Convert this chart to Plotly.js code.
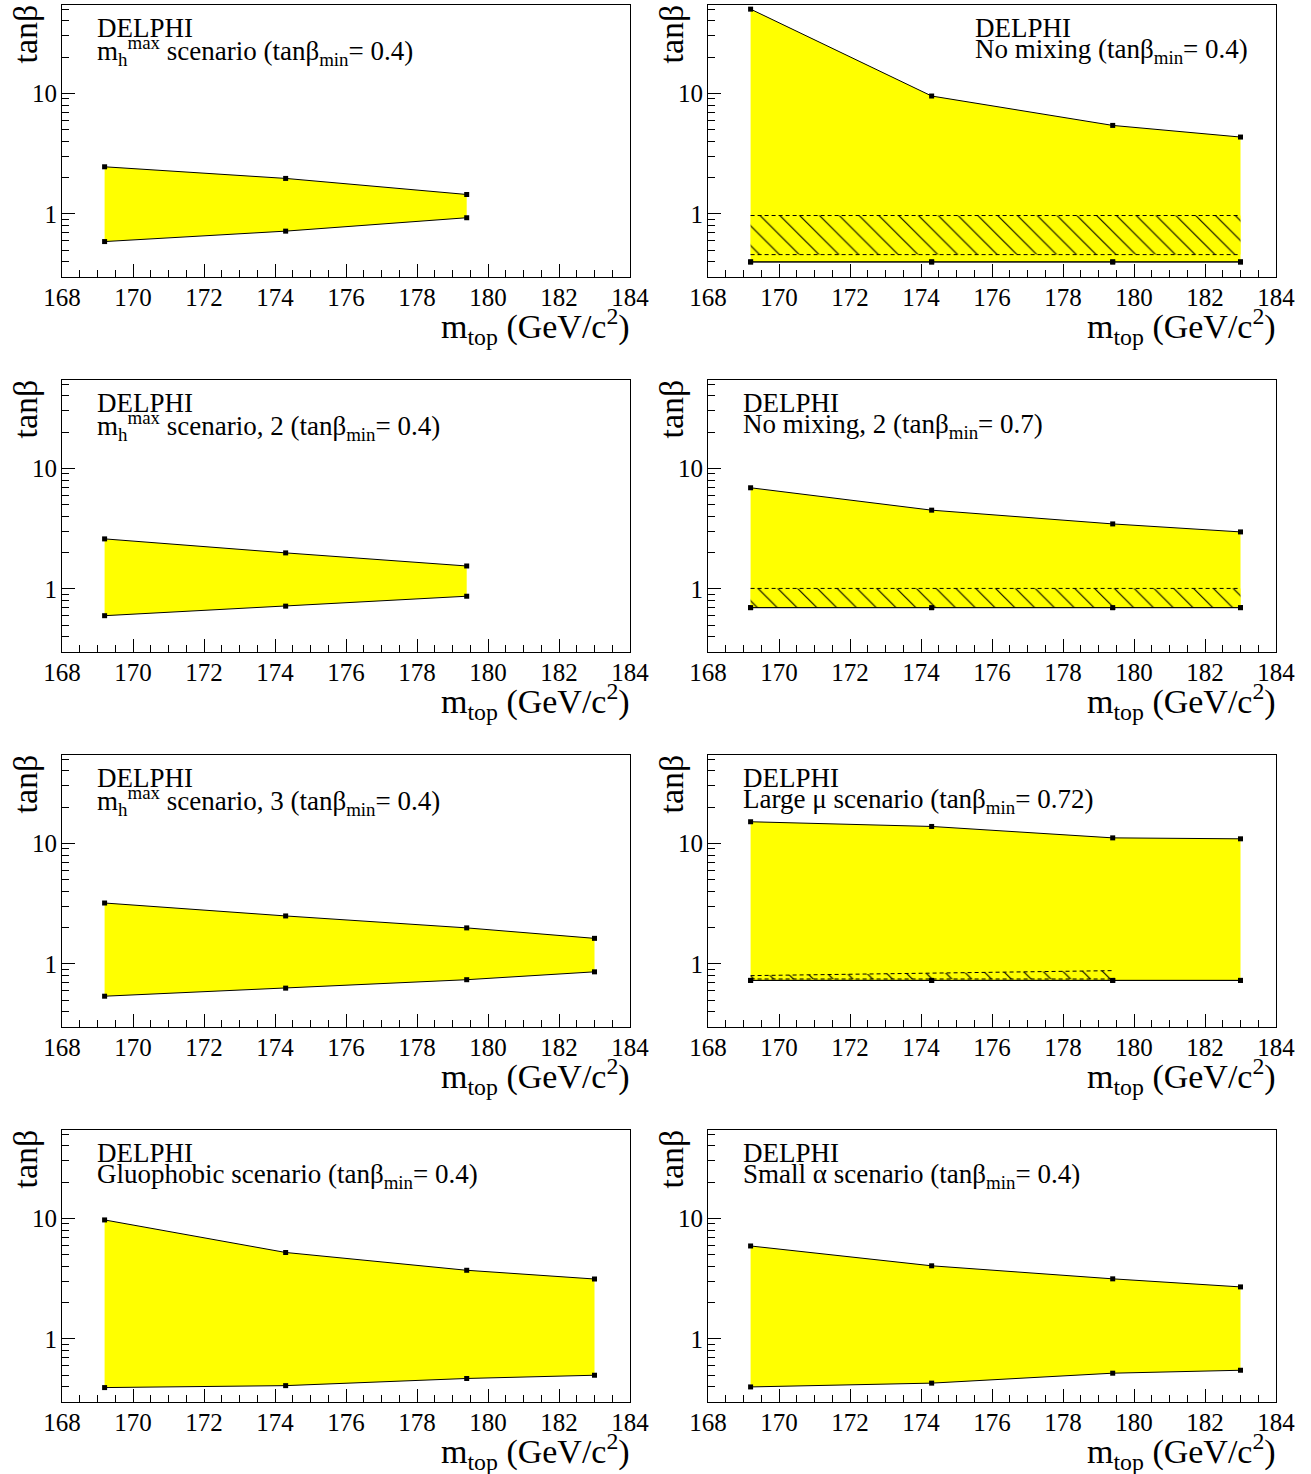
<!DOCTYPE html>
<html>
<head>
<meta charset="utf-8">
<script src="https://cdn.plot.ly/plotly-3.0.1.min.js"></script>
<style>html,body{margin:0;padding:0;background:#fff;}#chart{width:1311px;height:1474px;}</style>
</head>
<body>
<div id="chart"></div>
<script>
// ---- data ----
const mtop4 = [169.2, 174.3, 179.4, 183.0];
const mtop3 = [169.2, 174.3, 179.4];

const mhmaxUpper = [2.46, 1.97, 1.45];
const mhmaxLower = [0.59, 0.72, 0.93];

const nomixUpper = [49.9, 9.5, 5.42, 4.34];
const nomixLower = [0.40, 0.40, 0.40, 0.40];
const nomixHatchUpper = [0.97, 0.97, 0.97, 0.97];
const nomixHatchLower = [0.46, 0.46, 0.46, 0.46];

const mhmax2Upper = [2.6, 1.99, 1.55];
const mhmax2Lower = [0.60, 0.72, 0.87];

const nomix2Upper = [6.9, 4.5, 3.46, 2.97];
const nomix2Lower = [0.70, 0.70, 0.70, 0.70];
const nomix2HatchUpper = [1.01, 1.01, 1.01, 1.01];
const nomix2HatchLower = [0.70, 0.70, 0.70, 0.70];

const mhmax3Upper = [3.2, 2.5, 1.99, 1.63];
const mhmax3Lower = [0.54, 0.63, 0.74, 0.86];

const largemuUpper = [15.1, 13.8, 11.1, 10.9];
const largemuLower = [0.73, 0.73, 0.73, 0.73];
const largemuHatchUpper = [0.80, 0.84, 0.88];
const largemuHatchLower = [0.75, 0.75, 0.75];

const gluoUpper = [9.7, 5.21, 3.71, 3.14];
const gluoLower = [0.395, 0.41, 0.47, 0.50];

const smallaUpper = [5.9, 4.04, 3.15, 2.7];
const smallaLower = [0.40, 0.43, 0.52, 0.55];

const panelTexts = [
  'm<sub>h</sub><sup>max</sup> scenario (tanβ<sub>min</sub>= 0.4)',
  'No mixing (tanβ<sub>min</sub>= 0.4)',
  'm<sub>h</sub><sup>max</sup> scenario, 2 (tanβ<sub>min</sub>= 0.4)',
  'No mixing, 2 (tanβ<sub>min</sub>= 0.7)',
  'm<sub>h</sub><sup>max</sup> scenario, 3 (tanβ<sub>min</sub>= 0.4)',
  'Large μ scenario (tanβ<sub>min</sub>= 0.72)',
  'Gluophobic scenario (tanβ<sub>min</sub>= 0.4)',
  'Small α scenario (tanβ<sub>min</sub>= 0.4)'
];
const xTickVals = [168, 170, 172, 174, 176, 178, 180, 182, 184];
const yTickVals = [1, 10];
const yTickText = ['1', '10'];
const yMinorVals = [0.3, 0.4, 0.5, 0.6, 0.7, 0.8, 0.9, 2, 3, 4, 5, 6, 7, 8, 9, 20, 30, 40, 50];

const panels = [
  {x: mtop3, up: mhmaxUpper, lo: mhmaxLower},
  {x: mtop4, up: nomixUpper, lo: nomixLower, hx: mtop4, hup: nomixHatchUpper, hlo: nomixHatchLower, hloLine: true},
  {x: mtop3, up: mhmax2Upper, lo: mhmax2Lower},
  {x: mtop4, up: nomix2Upper, lo: nomix2Lower, hx: mtop4, hup: nomix2HatchUpper, hlo: nomix2HatchLower, hloLine: false},
  {x: mtop4, up: mhmax3Upper, lo: mhmax3Lower},
  {x: mtop4, up: largemuUpper, lo: largemuLower, hx: mtop3, hup: largemuHatchUpper, hlo: largemuHatchLower, hloLine: true},
  {x: mtop4, up: gluoUpper, lo: gluoLower},
  {x: mtop4, up: smallaUpper, lo: smallaLower}
];

// ---- geometry ----
const W = 1311, H = 1474;
const colLeft = [62, 708], colW = 568;
const rowTop = [5, 380, 755, 1130], rowH = 272;
const px = v => v / W;
const py = v => 1 - v / H;

const FONT = 'Liberation Serif';
const traces = [];
const layout = {
  width: W, height: H,
  margin: {l: 0, r: 0, t: 0, b: 0},
  paper_bgcolor: 'white', plot_bgcolor: 'white',
  font: {family: FONT, color: 'black'},
  showlegend: false,
  annotations: []
};

const markerStyle = {symbol: 'square', size: 5, color: 'black'};

panels.forEach((p, i) => {
  const r = Math.floor(i / 2), c = i % 2;
  const xa = 'x' + (i === 0 ? '' : i + 1), ya = 'y' + (i === 0 ? '' : i + 1);
  const xk = 'xaxis' + (i === 0 ? '' : i + 1), yk = 'yaxis' + (i === 0 ? '' : i + 1);
  const L = colLeft[c], T = rowTop[r];

  layout[xk] = {
    domain: [px(L), px(L + colW)],
    anchor: ya,
    range: [168, 184],
    tickmode: 'array', tickvals: xTickVals,
    ticks: 'inside', ticklen: 13, tickwidth: 1, tickcolor: 'black',
    minor: {tickmode: 'linear', tick0: 168, dtick: 0.5, ticks: 'inside', ticklen: 7, tickwidth: 1, tickcolor: 'black'},
    showgrid: false, zeroline: false,
    showline: true, linecolor: 'black', linewidth: 1, mirror: true,
    tickfont: {family: FONT, size: 25, color: 'black'},
    ticklabelstandoff: -2
  };
  layout[yk] = {
    domain: [py(T + rowH), py(T)],
    anchor: xa,
    type: 'log',
    range: [Math.log10(0.3), Math.log10(54)],
    tickmode: 'array', tickvals: yTickVals, ticktext: yTickText,
    ticks: 'inside', ticklen: 13, tickwidth: 1, tickcolor: 'black',
    minor: {tickmode: 'array', tickvals: yMinorVals, ticks: 'inside', ticklen: 7, tickwidth: 1, tickcolor: 'black'},
    showgrid: false, zeroline: false,
    showline: true, linecolor: 'black', linewidth: 1, mirror: true,
    tickfont: {family: FONT, size: 25, color: 'black'},
    ticklabelstandoff: -1
  };

  traces.push({
    type: 'scatter', mode: 'lines+markers', x: p.x, y: p.lo, xaxis: xa, yaxis: ya,
    line: {color: 'black', width: 1}, marker: markerStyle, hoverinfo: 'skip'
  });
  traces.push({
    type: 'scatter', mode: 'lines+markers', x: p.x, y: p.up, xaxis: xa, yaxis: ya,
    fill: 'tonexty', fillcolor: '#ffff00',
    line: {color: 'black', width: 1}, marker: markerStyle, hoverinfo: 'skip'
  });
  if (p.hup) {
    traces.push({
      type: 'scatter', mode: 'lines', x: p.hx, y: p.hlo, xaxis: xa, yaxis: ya,
      line: {color: 'black', width: p.hloLine ? 1 : 0, dash: '4px,3px'}, hoverinfo: 'skip'
    });
    traces.push({
      type: 'scatter', mode: 'lines', x: p.hx, y: p.hup, xaxis: xa, yaxis: ya,
      fill: 'tonexty', fillcolor: '#ffff00',
      fillpattern: {shape: '\\', size: 14, solidity: 0.08, fgcolor: 'black', bgcolor: '#ffff00'},
      line: {color: 'black', width: 1, dash: '4px,3px'}, hoverinfo: 'skip'
    });
    traces.push({
      type: 'scatter', mode: 'lines+markers', x: p.x, y: p.lo, xaxis: xa, yaxis: ya,
      line: {color: 'black', width: 1}, marker: markerStyle, hoverinfo: 'skip'
    });
  }

  const tx = (i === 1) ? L + 265 : L + 33;
  layout.annotations.push({
    xref: 'paper', yref: 'paper', x: px(tx), y: py(T + 23), xanchor: 'left', yanchor: 'middle',
    text: 'DELPHI', showarrow: false, font: {family: FONT, size: 27, color: 'black'}
  });
  layout.annotations.push({
    xref: 'paper', yref: 'paper', x: px(tx), y: py(T + 46), xanchor: 'left', yanchor: 'middle',
    text: panelTexts[i], showarrow: false, font: {family: FONT, size: 27, color: 'black'}
  });
  layout.annotations.push({
    xref: 'paper', yref: 'paper', x: px(L + colW + 2), y: py(T + 321), xanchor: 'right', yanchor: 'middle',
    text: 'm<sub>top</sub> (GeV/c<sup>2</sup>)', showarrow: false, font: {family: FONT, size: 34, color: 'black'}
  });
  layout.annotations.push({
    xref: 'paper', yref: 'paper', x: px(L - 37), y: py(T - 2), xanchor: 'center', yanchor: 'top',
    text: 'tanβ', textangle: -90, showarrow: false, font: {family: FONT, size: 34, color: 'black'}
  });
});

Plotly.newPlot('chart', traces, layout, {staticPlot: true, displayModeBar: false});
</script>
</body>
</html>
